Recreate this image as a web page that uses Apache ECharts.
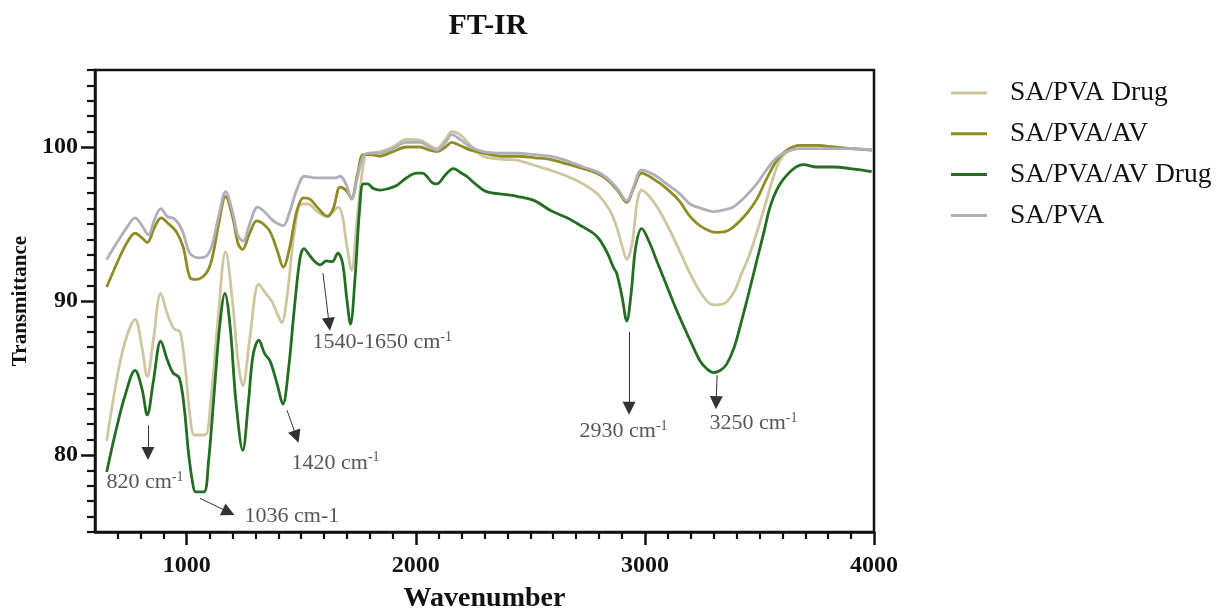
<!DOCTYPE html>
<html>
<head>
<meta charset="utf-8">
<style>
  html, body { margin: 0; padding: 0; background: #fff; }
  #chart { width: 1219px; height: 609px; }
</style>
<script src="https://cdn.jsdelivr.net/npm/echarts@6/dist/echarts.min.js"></script>
</head>
<body>
<div id="chart"></div>
<script>
// ---------------- data ----------------
const seriesNames = ['SA/PVA Drug', 'SA/PVA/AV', 'SA/PVA/AV Drug', 'SA/PVA'];
const seriesColors = ['#cdc6a0', '#8f8c22', '#236e22', '#b0aeb8'];

const saPvaDrugX = [651,690,730,775,805,828,855,887,915,945,971,995,1015,1035,1080,1105,1135,1170,1200,1225,1245,1275,1315,1345,1371,1395,1415,1440,1470,1500,1530,1570,1611,1640,1662,1680,1700,1720,1745,1779,1800,1844,1900,1960,2018,2060,2091,2130,2157,2193,2240,2295,2380,2441,2520,2586,2660,2731,2790,2819,2850,2877,2900,2921,2945,2965,2986,3040,3095,3150,3197,3250,3299,3340,3386,3420,3459,3500,3532,3560,3590,3630,3677,3750,3823,3900,3990];
const saPvaDrugY = [80.9,84.5,87.3,88.8,87.0,85.1,87.5,90.5,89.2,88.2,88.0,85.5,82.5,81.3,81.3,83.5,88.5,93.2,90.0,86.0,84.5,87.5,91.1,90.5,90.0,89.2,88.6,90.5,94.5,96.3,96.3,95.8,95.5,95.8,96.1,95.5,93.5,92.0,95.5,99.5,99.6,99.7,100.0,100.5,100.45,100.1,99.9,100.5,101.0,100.8,100.1,99.4,99.2,99.15,98.8,98.5,98.1,97.6,97.0,96.5,95.8,94.8,93.6,92.7,93.8,96.3,97.2,96.4,95.0,93.3,91.8,90.4,89.75,89.8,90.5,91.7,93.1,95.0,96.6,98.0,99.15,99.8,100.1,100.1,100.0,99.9,99.8];

const saPvaAvX = [651,700,740,775,805,828,860,889,915,955,985,1015,1040,1085,1110,1140,1170,1200,1225,1244,1275,1306,1335,1364,1395,1422,1450,1480,1510,1540,1575,1615,1640,1670,1695,1720,1745,1771,1800,1844,1900,1960,2018,2060,2091,2130,2157,2193,2240,2295,2380,2441,2520,2586,2660,2731,2790,2834,2880,2921,2950,2986,3040,3095,3150,3197,3250,3313,3350,3386,3440,3488,3530,3575,3620,3677,3750,3823,3900,3990];
const saPvaAvY = [90.9,92.6,93.8,94.4,94.1,93.8,94.8,95.4,95.1,94.5,93.5,91.5,91.4,91.8,92.7,95.0,96.8,95.5,93.7,93.35,94.4,95.2,95.0,94.5,93.3,92.2,93.5,95.8,96.7,96.6,96.0,95.5,96.0,97.4,97.2,96.7,98.2,99.5,99.5,99.4,99.7,100.0,100.0,99.8,99.7,100.0,100.3,100.1,99.8,99.6,99.4,99.4,99.3,99.2,98.9,98.6,98.3,97.9,97.2,96.4,97.3,98.3,97.9,97.3,96.5,95.5,94.8,94.45,94.5,94.8,95.6,96.6,97.9,99.1,99.8,100.1,100.1,100.0,99.9,99.8];

const saPvaAvDrugX = [651,690,730,775,805,828,855,887,915,940,968,990,1007,1025,1040,1075,1095,1120,1145,1167,1190,1215,1245,1270,1290,1315,1340,1364,1395,1420,1444,1470,1495,1512,1535,1560,1582,1610,1635,1660,1680,1700,1715,1735,1755,1771,1790,1815,1844,1880,1917,1960,2004,2030,2048,2070,2091,2130,2164,2200,2222,2260,2309,2397,2441,2520,2586,2660,2731,2775,2804,2840,2862,2877,2900,2921,2940,2960,2986,3020,3052,3095,3130,3168,3205,3241,3270,3299,3330,3357,3390,3420,3455,3488,3520,3546,3575,3604,3650,3692,3750,3823,3896,3950,3990];
const saPvaAvDrugY = [78.9,81.5,83.8,85.5,84.3,82.6,84.8,87.4,86.2,85.35,85.0,83.0,80.3,78.3,77.6,77.6,79.5,84.0,88.5,90.5,88.3,83.5,80.3,83.5,86.5,87.45,86.6,86.1,84.6,83.3,85.5,89.5,92.8,93.4,93.0,92.55,92.35,92.6,92.55,93.1,92.5,90.0,88.5,91.5,96.0,97.6,97.6,97.3,97.2,97.3,97.5,98.0,98.3,98.3,98.1,97.7,97.6,98.2,98.6,98.3,98.1,97.6,97.1,96.9,96.8,96.5,95.9,95.4,94.8,94.4,93.95,93.0,92.2,91.8,90.3,88.7,90.5,93.5,94.7,93.8,92.6,91.0,89.7,88.4,87.2,86.1,85.6,85.35,85.5,85.9,87.0,88.6,90.6,92.6,94.5,96.1,97.2,97.9,98.6,98.85,98.7,98.7,98.6,98.5,98.4];

const saPvaX = [651,700,740,775,805,833,860,887,915,949,980,1010,1029,1055,1085,1110,1140,1170,1200,1225,1247,1275,1310,1340,1371,1400,1422,1450,1480,1515,1560,1611,1650,1670,1695,1720,1745,1771,1800,1844,1900,1960,2018,2060,2091,2130,2157,2193,2240,2295,2380,2441,2520,2586,2660,2731,2790,2834,2880,2921,2950,2986,3040,3095,3150,3197,3250,3299,3340,3386,3440,3488,3530,3575,3620,3677,3750,3823,3900,3990];
const saPvaY = [92.7,93.9,94.8,95.4,94.9,94.3,95.3,96.0,95.5,95.3,94.6,93.2,92.9,92.8,92.9,93.6,95.5,97.1,95.8,94.2,93.9,95.0,96.1,95.8,95.3,95.0,94.9,95.8,97.2,98.1,98.0,98.0,98.0,98.1,97.6,96.6,98.0,99.4,99.6,99.6,99.9,100.3,100.3,100.0,99.8,100.3,100.8,100.5,100.0,99.7,99.6,99.6,99.5,99.4,99.1,98.7,98.4,98.0,97.3,96.5,97.4,98.5,98.2,97.6,97.0,96.3,96.0,95.8,95.9,96.1,96.8,97.6,98.5,99.3,99.7,99.9,99.9,99.9,99.9,99.8];

// axis ticks
const xMajorTicks = [1000, 2000, 3000, 4000];
const xMinorTicks = [700,800,900,1100,1200,1300,1400,1500,1600,1700,1800,1900,2100,2200,2300,2400,2500,2600,2700,2800,2900,3100,3200,3300,3400,3500,3600,3700,3800,3900];
const yMajorTicks = [80, 90, 100];
const yMinorTicks = [75,76,77,78,79,81,82,83,84,85,86,87,88,89,91,92,93,94,95,96,97,98,99,101,102,103,104,105];

// annotations (data coordinates)
const annotMain = ['820 cm', '1036 cm-1', '1420 cm', '1540-1650 cm', '2930 cm', '3250 cm'];
const annotSup  = ['-1', '', '-1', '-1', '-1', '-1'];
const annotX    = [652, 1255, 1460, 1552, 2717, 3284];
const annotY    = [78.2, 75.96, 79.46, 87.26, 81.48, 82.0];
const arrowFrom = [[831, 81.93], [1058, 77.19], [1438, 82.91], [1595, 91.81], [2931, 87.98], [3315, 85.18]];
const arrowTo   = [[831, 80.1], [1183, 76.29], [1479, 81.19], [1622, 88.49], [2931, 83.03], [3311, 83.4]];

// ---------------- chart ----------------
const FONT = '"Liberation Serif", "Times New Roman", serif';
const zip = (xs, ys) => xs.map((x, i) => [x, ys[i]]);
const seriesData = [zip(saPvaDrugX, saPvaDrugY), zip(saPvaAvX, saPvaAvY), zip(saPvaAvDrugX, saPvaAvDrugY), zip(saPvaX, saPvaY)];

const chart = echarts.init(document.getElementById('chart'), null, { renderer: 'canvas' });

const lineSeries = seriesNames.map((name, i) => ({
  name: name,
  type: 'line',
  xAxisIndex: 0,
  yAxisIndex: 0,
  data: seriesData[i],
  showSymbol: false,
  symbol: 'none',
  smooth: 0.35,
  lineStyle: { color: seriesColors[i], width: 2.8 },
  itemStyle: { color: seriesColors[i] },
  z: 2 + i
}));

const annotSeries = {
  name: 'annotations',
  type: 'scatter',
  xAxisIndex: 0,
  yAxisIndex: 0,
  silent: true,
  z: 10,
  symbolSize: 1,
  itemStyle: { color: 'rgba(0,0,0,0)' },
  data: annotX.map((x, i) => ({ value: [x, annotY[i]], name: String(i) })),
  label: {
    show: true,
    position: [0, 0],
    align: 'left',
    verticalAlign: 'middle',
    formatter: p => {
      const i = Number(p.name);
      return annotSup[i] ? `{n|${annotMain[i]}}{s|${annotSup[i]}}` : `{n|${annotMain[i]}}`;
    },
    rich: {
      n: { fontFamily: FONT, fontSize: 22, color: '#2a2a2a', lineHeight: 24 },
      s: { fontFamily: FONT, fontSize: 14, color: '#2a2a2a', verticalAlign: 'top', lineHeight: 14 }
    }
  },
  markLine: {
    silent: true,
    symbol: ['none', 'triangle'],
    symbolSize: 13,
    label: { show: false },
    lineStyle: { color: '#333', width: 1, type: 'solid' },
    emphasis: { disabled: true },
    animation: false,
    data: arrowFrom.map((f, i) => [{ coord: f }, { coord: arrowTo[i] }])
  }
};

const axisLineStyle = { color: '#111', width: 2.5 };

chart.setOption({
  animation: false,
  backgroundColor: '#fff',
  title: {
    text: 'FT-IR',
    left: 483,
    top: 6,
    textAlign: 'center',
    textStyle: { fontFamily: FONT, fontSize: 30, fontWeight: 'bold', color: '#111' }
  },
  legend: {
    data: seriesNames,
    orient: 'vertical',
    left: 946,
    top: 74,
    itemWidth: 36,
    itemHeight: 3,
    itemGap: 12.8,
    icon: 'rect',
    selectedMode: false,
    textStyle: { fontFamily: FONT, fontSize: 27.5, color: '#111', lineHeight: 27, padding: [0, 0, 0, 18] }
  },
  grid: {
    left: 95, right: 345, top: 70, bottom: 77,
    outerBoundsMode: 'none',
    containLabel: false,
    show: true, borderColor: '#111', borderWidth: 2.5, backgroundColor: 'transparent'
  },
  xAxis: [
    {
      type: 'value', min: 600, max: 4000, position: 'bottom',
      name: 'Wavenumber', nameLocation: 'middle', nameGap: 53,
      nameTextStyle: { fontFamily: FONT, fontSize: 28, fontWeight: 'bold', color: '#111' },
      axisLine: { show: true, onZero: false, lineStyle: axisLineStyle },
      axisTick: { show: true, customValues: xMajorTicks, length: 13, lineStyle: axisLineStyle },
      axisLabel: { customValues: xMajorTicks, formatter: v => String(v), fontFamily: FONT, fontSize: 24, fontWeight: 'bold', color: '#111', margin: 22 },
      splitLine: { show: false }
    },
    {
      type: 'value', min: 600, max: 4000, position: 'bottom', gridIndex: 0,
      axisLine: { show: false, onZero: false },
      axisTick: { show: true, customValues: xMinorTicks, length: 7, lineStyle: { color: '#111', width: 2.2 } },
      axisLabel: { show: false },
      splitLine: { show: false }
    }
  ],
  yAxis: [
    {
      type: 'value', min: 75, max: 105, position: 'left',
      name: 'Transmittance', nameLocation: 'middle', nameGap: 58, nameRotate: 90,
      nameTextStyle: { fontFamily: FONT, fontSize: 21, fontWeight: 'bold', color: '#111' },
      axisLine: { show: true, onZero: false, lineStyle: axisLineStyle },
      axisTick: { show: true, customValues: yMajorTicks, length: 14, lineStyle: axisLineStyle },
      axisLabel: { customValues: yMajorTicks, formatter: v => String(v), fontFamily: FONT, fontSize: 24, fontWeight: 'bold', color: '#111', margin: 17 },
      splitLine: { show: false }
    },
    {
      type: 'value', min: 75, max: 105, position: 'left', gridIndex: 0,
      axisLine: { show: false, onZero: false },
      axisTick: { show: true, customValues: yMinorTicks, length: 8, lineStyle: { color: '#111', width: 2.2 } },
      axisLabel: { show: false },
      splitLine: { show: false }
    }
  ],
  series: lineSeries.concat([annotSeries])
});
</script>
</body>
</html>
